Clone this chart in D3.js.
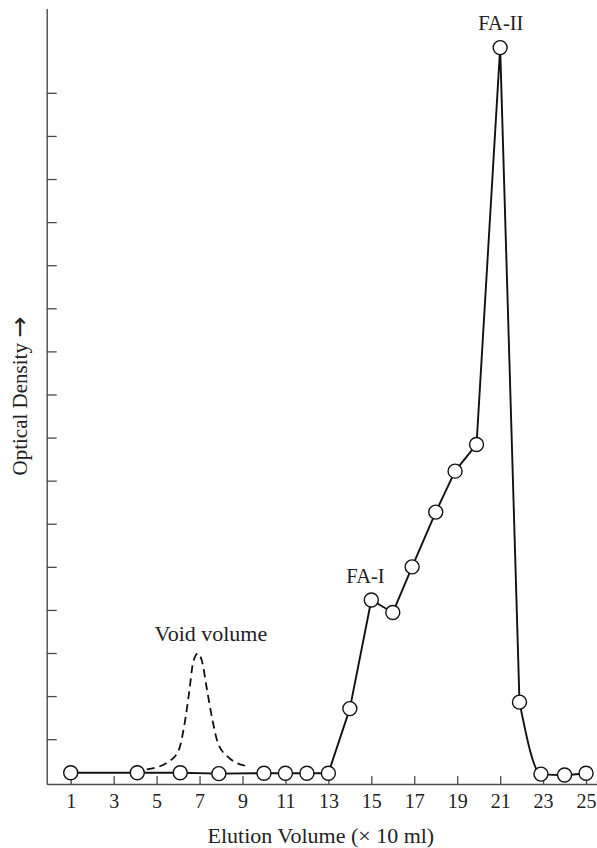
<!DOCTYPE html>
<html>
<head>
<meta charset="utf-8">
<script src="https://cdn.jsdelivr.net/npm/d3@7"></script>
<style>
  html, body { margin: 0; padding: 0; background: #fff; }
  svg { display: block; }
  text { font-family: "Liberation Serif", "DejaVu Serif", serif; fill: #222; }
</style>
</head>
<body>
<svg id="chart" width="597" height="848"></svg>
<script>
// ---- Data ----
// Elution volume (x 10 ml) of each measured fraction
const elutionVolume = [1, 4.1, 6.1, 7.9, 10, 11, 12, 13, 14, 15, 16, 16.9, 18, 18.9, 19.9, 21, 21.9, 22.9, 24, 25];
// Optical density (tick units) of each fraction
const opticalDensity = [0.22, 0.22, 0.22, 0.2, 0.21, 0.21, 0.21, 0.21, 1.71, 4.23, 3.94, 5.0, 6.27, 7.22, 7.84, 17.05, 1.86, 0.19, 0.17, 0.21];

// Void volume marker (dashed curve)
const voidX = [4.54, 5.47, 6.01, 6.30, 6.52, 6.70, 6.92, 7.12, 7.33, 7.60, 7.85, 8.30, 9.15];
const voidY = [0.30, 0.45, 0.72, 1.35, 2.10, 2.78, 2.99, 2.80, 2.20, 1.45, 0.92, 0.60, 0.38];

const xTickValues = [1, 3, 5, 7, 9, 11, 13, 15, 17, 19, 21, 23, 25];
const yTickValues = [1, 2, 3, 4, 5, 6, 7, 8, 9, 10, 11, 12, 13, 14, 15, 16];

const annotations = [
  { text: "Void volume", x: 7.53, y: 3.28, size: 22 },
  { text: "FA-I", x: 14.73, y: 4.63, size: 20.5 },
  { text: "FA-II", x: 21.03, y: 17.46, size: 20.5 }
];
const xAxisTitle = "Elution Volume (\u00d7 10 ml)";
const yAxisTitle = "Optical Density";
const yAxisArrow = "\u2192";

// ---- Layout ----
const svg = d3.select("#chart");
const x = d3.scaleLinear().domain([-0.118, 25.51]).range([46.7, 597]);
const y = d3.scaleLinear().domain([-0.04, 17.96]).range([784, 8.4]);
const axisColor = "#4a4a4a";

// X axis
const xAxis = svg.append("g")
  .attr("transform", `translate(0,${y(-0.04)})`)
  .call(d3.axisBottom(x).tickValues(xTickValues).tickSize(-8).tickSizeOuter(0).tickFormat(d3.format("d")));
xAxis.select(".domain").attr("stroke", axisColor).attr("stroke-width", 1.4);
xAxis.selectAll(".tick line").attr("stroke", axisColor).attr("stroke-width", 1.3);
xAxis.selectAll(".tick text")
  .attr("dy", null).attr("y", 24)
  .attr("font-size", 20)
  .attr("font-family", "Liberation Serif")
  .attr("fill", "#222");

// Y axis
const yAxis = svg.append("g")
  .attr("transform", `translate(${x(-0.118)},0)`)
  .call(d3.axisLeft(y).tickValues(yTickValues).tickSize(-10).tickSizeOuter(0).tickFormat(""));
yAxis.select(".domain").attr("stroke", axisColor).attr("stroke-width", 1.4);
yAxis.selectAll(".tick line").attr("stroke", axisColor).attr("stroke-width", 1.3);

// Axis titles
svg.append("text")
  .attr("x", (x.range()[0] + x.range()[1]) / 2 - 1)
  .attr("y", 843)
  .attr("text-anchor", "middle")
  .attr("font-size", 22)
  .text(xAxisTitle);

const yt = svg.append("text")
  .attr("transform", `translate(27,${(y.range()[0] + y.range()[1]) / 2}) rotate(-90)`)
  .attr("text-anchor", "middle")
  .attr("font-size", 21);
yt.append("tspan").text(yAxisTitle + " ");
yt.append("tspan").attr("font-family", "DejaVu Sans").attr("font-size", 25).attr("dy", 1).text(yAxisArrow);

// ---- Marks ----
const points = elutionVolume.map((v, i) => ({ x: v, y: opticalDensity[i] }));
const voidPts = voidX.map((v, i) => ({ x: v, y: voidY[i] }));

// Void volume dashed curve
svg.append("path")
  .datum(voidPts)
  .attr("fill", "none")
  .attr("stroke", "#111")
  .attr("stroke-width", 1.8)
  .attr("stroke-dasharray", "8,5")
  .attr("d", d3.line().x(d => x(d.x)).y(d => y(d.y)).curve(d3.curveMonotoneX));

// Elution profile: straight segments, smooth tail after the FA-II drop
const splitIndex = elutionVolume.indexOf(21.9);
const lineLinear = d3.line().x(d => x(d.x)).y(d => y(d.y)).curve(d3.curveLinear);
const lineSmooth = d3.line().x(d => x(d.x)).y(d => y(d.y)).curve(d3.curveMonotoneX);
svg.append("path")
  .datum(points.slice(0, splitIndex + 1))
  .attr("fill", "none")
  .attr("stroke", "#111")
  .attr("stroke-width", 1.9)
  .attr("stroke-linejoin", "round")
  .attr("d", lineLinear);
svg.append("path")
  .datum(points.slice(splitIndex))
  .attr("fill", "none")
  .attr("stroke", "#111")
  .attr("stroke-width", 1.9)
  .attr("d", lineSmooth);

svg.append("g")
  .selectAll("circle")
  .data(points)
  .join("circle")
  .attr("cx", d => x(d.x))
  .attr("cy", d => y(d.y))
  .attr("r", 7)
  .attr("fill", "#fff")
  .attr("stroke", "#111")
  .attr("stroke-width", 1.4);

// Annotations
svg.append("g")
  .selectAll("text")
  .data(annotations)
  .join("text")
  .attr("x", d => x(d.x))
  .attr("y", d => y(d.y))
  .attr("text-anchor", "middle")
  .attr("font-size", d => d.size)
  .text(d => d.text);
</script>
</body>
</html>
